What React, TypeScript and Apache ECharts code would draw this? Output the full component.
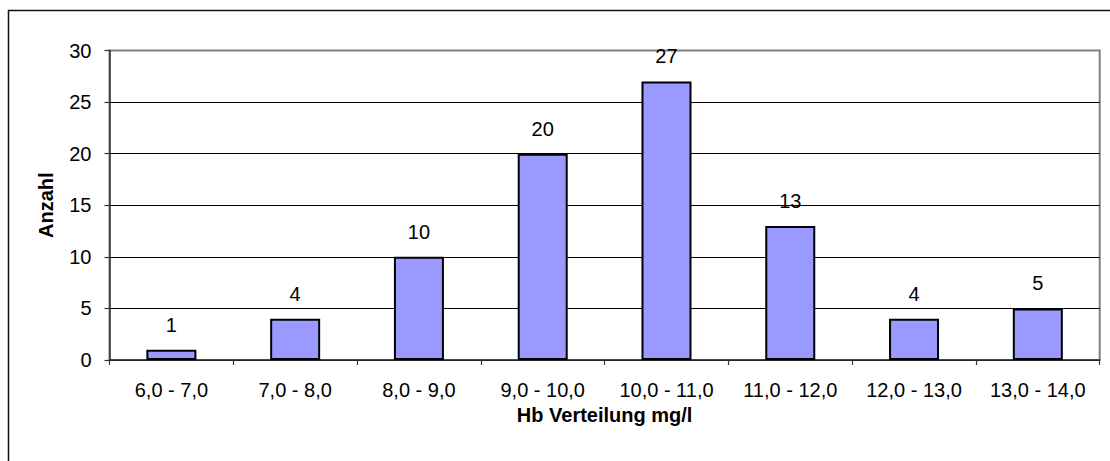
import React, { useEffect, useRef } from "react";
import * as echarts from "echarts";

const categories = ["6,0 - 7,0", "7,0 - 8,0", "8,0 - 9,0", "9,0 - 10,0", "10,0 - 11,0", "11,0 - 12,0", "12,0 - 13,0", "13,0 - 14,0"];
const counts = [1, 4, 10, 20, 27, 13, 4, 5];
const xAxisTitle = "Hb Verteilung mg/l";
const yAxisTitle = "Anzahl";

const FONT = "'Liberation Sans', Arial, sans-serif";

export default function App() {
  const ref = useRef<HTMLDivElement>(null);
  useEffect(() => {
    const chart = echarts.init(ref.current!, null, { renderer: "svg" });
    chart.setOption({
      animation: false,
      backgroundColor: "#ffffff",
      textStyle: { fontFamily: FONT },
      graphic: [
        {
          type: "rect",
          shape: { x: 8.5, y: 10.5, width: 1300, height: 700 },
          style: { fill: "none", stroke: "#111", lineWidth: 1.5 },
          silent: true,
          z: 100,
        },
      ],
      grid: {
        left: 109.5,
        top: 50.5,
        right: 10.3,
        bottom: 101,
        show: true,
        borderColor: "#808080",
        borderWidth: 2,
        backgroundColor: "transparent",
      },
      xAxis: {
        type: "category",
        data: categories,
        name: xAxisTitle,
        nameLocation: "middle",
        nameGap: 42,
        nameTextStyle: { fontFamily: FONT, fontSize: 20, fontWeight: "bold", color: "#000" },
        axisLine: { lineStyle: { color: "#333", width: 1.5 } },
        axisTick: { show: true, length: 5, alignWithLabel: false, lineStyle: { color: "#333", width: 1.2 } },
        axisLabel: { fontFamily: FONT, fontSize: 20, color: "#000", margin: 20, interval: 0 },
        splitLine: { show: false },
      },
      yAxis: {
        type: "value",
        min: 0,
        max: 30,
        interval: 5,
        name: yAxisTitle,
        nameLocation: "middle",
        nameGap: 54,
        nameRotate: 90,
        nameTextStyle: { fontFamily: FONT, fontSize: 20, fontWeight: "bold", color: "#000" },
        axisLine: { show: true, lineStyle: { color: "#333", width: 1.5 } },
        axisTick: { show: true, length: 5, lineStyle: { color: "#333", width: 1.2 } },
        axisLabel: { fontFamily: FONT, fontSize: 20, color: "#000", margin: 18 },
        splitLine: {
          show: true,
          lineStyle: { color: ["#000", "#000", "#000", "#000", "#000", "#000", "#808080"], width: 1 },
        },
      },
      series: [
        {
          type: "bar",
          data: counts,
          barWidth: 50,
          itemStyle: { color: "#9999FF", borderColor: "#000", borderWidth: 2 },
          label: {
            show: true,
            position: "top",
            distance: 15,
            fontFamily: FONT,
            fontSize: 20,
            color: "#000",
          },
        },
      ],
    });
    return () => chart.dispose();
  }, []);
  return (
    <div
      ref={ref}
      style={{ position: "fixed", left: 0, top: 0, width: 1110, height: 461, background: "#fff" }}
    />
  );
}
